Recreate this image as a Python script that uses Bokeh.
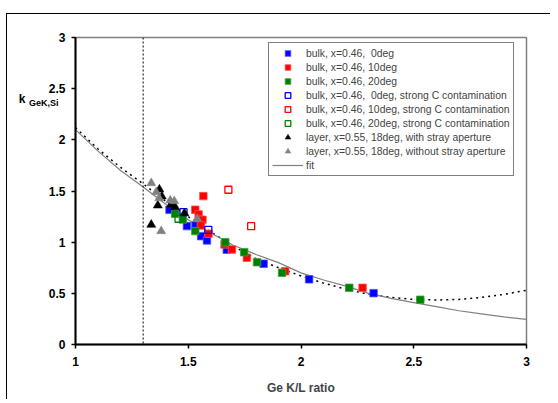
from bokeh.plotting import figure
from bokeh.models import Span, Legend, LegendItem, FixedTicker, LinearAxis
from bokeh.embed import file_html
from bokeh.resources import INLINE

# ---- data ----
blue_x = [1.417, 1.494, 1.532, 1.557, 1.583, 1.671, 1.834, 2.036, 2.322]
blue_y = [1.316, 1.157, 1.163, 1.059, 1.017, 0.926, 0.789, 0.637, 0.502]

red_x = [1.567, 1.531, 1.546, 1.563, 1.556, 1.590, 1.661, 1.694, 1.760, 1.930, 2.273]
red_y = [1.450, 1.317, 1.271, 1.219, 1.163, 1.082, 0.978, 0.929, 0.848, 0.716, 0.554]

green_x = [1.442, 1.476, 1.531, 1.664, 1.748, 1.805, 1.916, 2.214, 2.529]
green_y = [1.277, 1.222, 1.108, 1.000, 0.902, 0.804, 0.701, 0.554, 0.437]

blue_open_x = [1.479, 1.589]
blue_open_y = [1.293, 1.121]
red_open_x = [1.678, 1.779]
red_open_y = [1.512, 1.156]
green_open_x = [1.457]
green_open_y = [1.229]

black_tri_x = [1.372, 1.383, 1.365, 1.336, 1.424, 1.442, 1.483]
black_tri_y = [1.515, 1.447, 1.359, 1.170, 1.369, 1.342, 1.283]
gray_tri_x = [1.336, 1.358, 1.371, 1.420, 1.438, 1.380, 1.540]
gray_tri_y = [1.577, 1.489, 1.430, 1.408, 1.401, 1.108, 1.229]

fit_x = [1.0, 1.1, 1.2, 1.3, 1.4, 1.5, 1.6, 1.7, 1.8, 1.9, 2.0, 2.1, 2.2, 2.3,
         2.4, 2.5, 2.6, 2.7, 2.8, 2.9, 3.0]
fit_y = [2.10, 1.89, 1.70, 1.54, 1.37, 1.22, 1.09, 0.97, 0.88, 0.80, 0.70, 0.63,
         0.57, 0.50, 0.45, 0.41, 0.37, 0.33, 0.30, 0.27, 0.245]
dot_x = fit_x
dot_y = [2.12, 1.91, 1.73, 1.57, 1.40, 1.25, 1.10, 0.96, 0.84, 0.75, 0.67, 0.60,
         0.54, 0.49, 0.46, 0.44, 0.435, 0.44, 0.46, 0.49, 0.53]

limit_x = 1.3

x_ticks = [1, 1.5, 2, 2.5, 3]
x_tick_labels = ["1", "1.5", "2", "2.5", "3"]
y_ticks = [0, 0.5, 1, 1.5, 2, 2.5, 3]
y_tick_labels = ["0", "0.5", "1", "1.5", "2", "2.5", "3"]

y_title_main = "k"
y_title_sub = "GeK,Si"

legend_labels = [
    "bulk, x=0.46,  0deg",
    "bulk, x=0.46, 10deg",
    "bulk, x=0.46, 20deg",
    "bulk, x=0.46,  0deg, strong C contamination",
    "bulk, x=0.46, 10deg, strong C contamination",
    "bulk, x=0.46, 20deg, strong C contamination",
    "layer, x=0.55, 18deg, with stray aperture",
    "layer, x=0.55, 18deg, without stray aperture",
    "fit",
]

FONT = "Liberation Sans"

p = figure(
    output_backend="svg", toolbar_location=None,
    frame_width=451, frame_height=307,
    min_border_left=68, min_border_top=23, min_border_right=24, min_border_bottom=55,
    x_range=(1, 3), y_range=(0, 3),
    margin=(13, 0, 0, 6),
    styles={"border-left": "1px solid black", "border-top": "1px solid black"},
)
p.background_fill_color = "white"
p.border_fill_color = "white"
p.outline_line_color = "#808080"
p.outline_line_width = 1.5
p.xgrid.visible = False
p.ygrid.visible = False

for ax, ticks, labels in ((p.xaxis[0], x_ticks, x_tick_labels), (p.yaxis[0], y_ticks, y_tick_labels)):
    ax.ticker = FixedTicker(ticks=ticks)
    ax.major_label_overrides = {t: l for t, l in zip(ticks, labels)}
    ax.minor_tick_line_color = None
    ax.major_tick_in = 0
    ax.major_tick_out = 4
    ax.axis_line_width = 2
    ax.major_tick_line_width = 1.5
    ax.axis_line_color = "black"
    ax.major_label_text_font = FONT
    ax.major_label_text_font_style = "bold"
    ax.major_label_text_font_size = "12px"
    ax.major_label_text_color = "black"

p.xaxis.major_label_standoff = 8
p.yaxis.major_label_standoff = 6
p.xaxis.axis_label = "Ge K/L ratio"
p.xaxis.axis_label_text_font = FONT
p.xaxis.axis_label_text_font_style = "bold"
p.xaxis.axis_label_text_font_size = "12px"
p.xaxis.axis_label_standoff = 12


def title_axis(text, at, size, standoff):
    ax = LinearAxis(ticker=FixedTicker(ticks=[at]), major_label_overrides={at: text})
    ax.axis_line_color = None
    ax.major_tick_line_color = None
    ax.minor_tick_line_color = None
    ax.major_tick_in = 0
    ax.major_tick_out = 0
    ax.major_label_standoff = standoff
    ax.major_label_text_font = FONT
    ax.major_label_text_font_style = "bold"
    ax.major_label_text_font_size = size
    ax.major_label_text_color = "black"
    return ax


# y-axis title k_{GeK,Si}, written horizontally near the top of the axis
p.add_layout(title_axis(y_title_sub, 2.36, "9px", -13), "left")
p.add_layout(title_axis(y_title_main, 2.40, "12px", 0), "left")

p.add_layout(Span(location=limit_x, dimension="height", line_color="black",
                  line_dash="2 2", line_width=1))

dotted = p.line(dot_x, dot_y, line_color="black", line_width=1.5, line_dash="2 4")
fit = p.line(fit_x, fit_y, line_color="#808080", line_width=1.2)

r_blue = p.scatter(blue_x, blue_y, marker="square", size=7.5, fill_color="#0000ff",
                   line_color="#5050ff", line_width=0.8)
r_red = p.scatter(red_x, red_y, marker="square", size=7.5, fill_color="#ff0000",
                  line_color="#ff5050", line_width=0.8)
r_green = p.scatter(green_x, green_y, marker="square", size=7.5, fill_color="#008000",
                    line_color="#40a040", line_width=0.8)
r_bo = p.scatter(blue_open_x, blue_open_y, marker="square", size=7, fill_color=None,
                 line_color="#0000ff", line_width=1.3)
r_ro = p.scatter(red_open_x, red_open_y, marker="square", size=7, fill_color=None,
                 line_color="#ff0000", line_width=1.3)
r_go = p.scatter(green_open_x, green_open_y, marker="square", size=7, fill_color=None,
                 line_color="#008000", line_width=1.3)
r_bt = p.scatter(black_tri_x, black_tri_y, marker="triangle", size=9, fill_color="black",
                 line_color="black", line_width=0.5)
r_gt = p.scatter(gray_tri_x, gray_tri_y, marker="triangle", size=9, fill_color="#808080",
                 line_color="#808080", line_width=0.5)

renderers = [r_blue, r_red, r_green, r_bo, r_ro, r_go, r_bt, r_gt, fit]
legend = Legend(
    items=[LegendItem(label=l, renderers=[r]) for l, r in zip(legend_labels, renderers)],
    location=(193, 168),
    label_text_font=FONT, label_text_font_size="10.4px",
    label_height=14, glyph_height=14, glyph_width=31, spacing=0, padding=3,
    label_standoff=3, margin=0,
    border_line_color="black", border_line_width=1,
    background_fill_color="white", background_fill_alpha=1,
)
p.add_layout(legend)

open("out.html", "w").write(file_html(p, INLINE))
